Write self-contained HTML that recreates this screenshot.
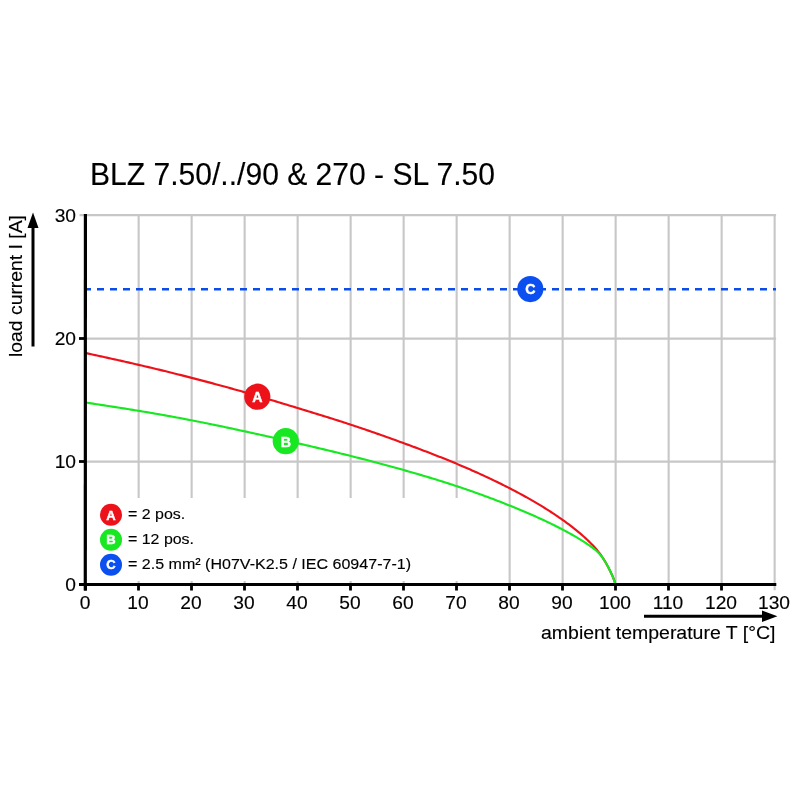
<!DOCTYPE html>
<html><head><meta charset="utf-8"><title>Derating curve</title>
<style>
html,body{margin:0;padding:0;background:#fff;}
body{width:800px;height:800px;overflow:hidden;font-family:"Liberation Sans", sans-serif;}
svg{display:block}
text{font-family:"Liberation Sans", sans-serif;fill:#000;stroke:#000;stroke-width:0.14px}
.w text{fill:#fff;stroke:#fff;stroke-width:0.45px}
</style></head><body>
<svg width="800" height="800" viewBox="0 0 800 800">
<rect width="800" height="800" fill="#fff"/>
<text x="90" y="185.2" font-size="31.2" textLength="405" lengthAdjust="spacingAndGlyphs">BLZ 7.50/../90 &amp; 270 - SL 7.50</text>
<g stroke="#c7c7c7" stroke-width="2.1" fill="none">
<line x1="138.65" y1="214" x2="138.65" y2="590.3"/>
<line x1="191.65" y1="214" x2="191.65" y2="590.3"/>
<line x1="244.65" y1="214" x2="244.65" y2="590.3"/>
<line x1="297.65" y1="214" x2="297.65" y2="590.3"/>
<line x1="350.65" y1="214" x2="350.65" y2="590.3"/>
<line x1="403.65" y1="214" x2="403.65" y2="590.3"/>
<line x1="456.65" y1="214" x2="456.65" y2="590.3"/>
<line x1="509.65" y1="214" x2="509.65" y2="590.3"/>
<line x1="562.65" y1="214" x2="562.65" y2="590.3"/>
<line x1="615.65" y1="214" x2="615.65" y2="590.3"/>
<line x1="668.65" y1="214" x2="668.65" y2="590.3"/>
<line x1="721.65" y1="214" x2="721.65" y2="590.3"/>
<line x1="774.65" y1="214" x2="774.65" y2="590.3"/>
<line x1="85" y1="461.60" x2="776.1" y2="461.60"/>
<line x1="85" y1="338.60" x2="776.1" y2="338.60"/>
<line x1="79.5" y1="215.15" x2="776.1" y2="215.15"/>
</g>
<rect x="92" y="498" width="395" height="83" fill="#fff"/>
<line x1="84" y1="289.2" x2="776" y2="289.2" stroke="#0c4ceb" stroke-width="2.45" stroke-dasharray="7 6"/>
<path d="M85.50,353.00 L87.44,353.42 L89.38,353.85 L91.31,354.27 L93.25,354.69 L95.19,355.11 L97.13,355.54 L99.06,355.96 L101.00,356.39 L102.94,356.81 L104.88,357.24 L106.81,357.66 L108.75,358.09 L110.69,358.52 L112.62,358.95 L114.56,359.38 L116.49,359.81 L118.43,360.24 L120.37,360.67 L122.30,361.11 L124.24,361.54 L126.17,361.98 L128.10,362.42 L130.04,362.86 L131.97,363.30 L133.91,363.74 L135.84,364.18 L137.77,364.63 L139.70,365.08 L141.63,365.53 L143.57,365.98 L145.50,366.44 L147.43,366.89 L149.36,367.35 L151.29,367.81 L153.21,368.27 L155.14,368.73 L157.07,369.20 L159.00,369.66 L160.93,370.13 L162.85,370.60 L164.78,371.07 L166.71,371.55 L168.63,372.02 L170.56,372.50 L172.48,372.98 L174.41,373.46 L176.33,373.94 L178.25,374.42 L180.18,374.91 L182.10,375.39 L184.02,375.88 L185.94,376.37 L187.86,376.86 L189.78,377.36 L191.71,377.85 L193.63,378.35 L195.55,378.85 L197.46,379.35 L199.38,379.85 L201.30,380.35 L203.22,380.86 L205.14,381.36 L207.06,381.87 L208.97,382.38 L210.89,382.89 L212.80,383.41 L214.72,383.92 L216.63,384.44 L218.55,384.96 L220.46,385.48 L222.38,386.00 L224.29,386.53 L226.20,387.05 L228.11,387.58 L230.02,388.11 L231.93,388.65 L233.84,389.18 L235.75,389.72 L237.66,390.25 L239.57,390.79 L241.48,391.34 L243.38,391.88 L245.29,392.43 L247.20,392.98 L249.10,393.53 L251.01,394.08 L252.91,394.63 L254.82,395.19 L256.72,395.75 L258.62,396.30 L260.52,396.87 L262.43,397.43 L264.33,397.99 L266.23,398.56 L268.13,399.12 L270.03,399.69 L271.93,400.26 L273.83,400.83 L275.73,401.40 L277.63,401.97 L279.53,402.54 L281.42,403.12 L283.32,403.69 L285.22,404.27 L287.12,404.84 L289.02,405.42 L290.91,406.00 L292.81,406.57 L294.71,407.15 L296.61,407.73 L298.50,408.31 L300.40,408.88 L302.30,409.46 L304.20,410.04 L306.09,410.62 L307.99,411.20 L309.89,411.78 L311.78,412.36 L313.68,412.95 L315.57,413.53 L317.47,414.12 L319.36,414.70 L321.26,415.29 L323.15,415.88 L325.05,416.47 L326.94,417.06 L328.83,417.65 L330.72,418.25 L332.62,418.84 L334.51,419.44 L336.40,420.04 L338.29,420.64 L340.17,421.25 L342.06,421.85 L343.95,422.46 L345.84,423.08 L347.72,423.69 L349.61,424.31 L351.49,424.93 L353.37,425.55 L355.26,426.17 L357.14,426.80 L359.02,427.43 L360.90,428.06 L362.78,428.70 L364.65,429.34 L366.53,429.98 L368.41,430.62 L370.28,431.27 L372.16,431.91 L374.03,432.56 L375.90,433.22 L377.78,433.87 L379.65,434.53 L381.52,435.19 L383.39,435.85 L385.26,436.51 L387.13,437.18 L388.99,437.84 L390.86,438.51 L392.73,439.18 L394.59,439.86 L396.46,440.53 L398.32,441.21 L400.19,441.89 L402.05,442.57 L403.91,443.25 L405.77,443.94 L407.64,444.62 L409.50,445.31 L411.36,446.00 L413.22,446.69 L415.07,447.38 L416.93,448.08 L418.79,448.78 L420.64,449.48 L422.50,450.18 L424.35,450.89 L426.21,451.60 L428.06,452.31 L429.91,453.02 L431.76,453.74 L433.60,454.46 L435.45,455.18 L437.30,455.91 L439.14,456.64 L440.99,457.37 L442.83,458.11 L444.67,458.84 L446.51,459.59 L448.34,460.33 L450.18,461.08 L452.01,461.84 L453.85,462.60 L455.68,463.36 L457.51,464.12 L459.34,464.89 L461.16,465.67 L462.99,466.44 L464.81,467.23 L466.63,468.01 L468.45,468.80 L470.27,469.60 L472.08,470.40 L473.89,471.20 L475.70,472.01 L477.51,472.82 L479.32,473.64 L481.13,474.46 L482.93,475.29 L484.73,476.12 L486.53,476.96 L488.32,477.80 L490.12,478.65 L491.91,479.50 L493.70,480.36 L495.49,481.22 L497.27,482.08 L499.05,482.96 L500.83,483.83 L502.61,484.72 L504.39,485.60 L506.16,486.50 L507.93,487.40 L509.70,488.30 L511.46,489.21 L513.22,490.13 L514.98,491.05 L516.74,491.97 L518.49,492.91 L520.24,493.85 L521.98,494.79 L523.73,495.75 L525.46,496.70 L527.20,497.67 L528.93,498.64 L530.66,499.62 L532.38,500.61 L534.10,501.61 L535.81,502.61 L537.52,503.62 L539.22,504.64 L540.92,505.66 L542.61,506.70 L544.30,507.74 L545.99,508.79 L547.66,509.85 L549.34,510.92 L551.00,512.00 L552.66,513.08 L554.32,514.18 L555.97,515.28 L557.61,516.40 L559.24,517.52 L560.87,518.65 L562.50,519.80 L564.11,520.95 L565.72,522.12 L567.32,523.29 L568.91,524.48 L570.50,525.67 L572.07,526.88 L573.64,528.11 L575.19,529.34 L576.73,530.59 L578.26,531.86 L579.78,533.13 L581.29,534.43 L582.78,535.73 L584.26,537.06 L585.73,538.40 L587.18,539.75 L588.61,541.12 L590.03,542.51 L591.43,543.92 L592.81,545.35 L594.17,546.80 L595.50,548.28 L596.79,549.78 L598.05,551.31 L599.28,552.87 L600.46,554.47 L601.60,556.09 L602.71,557.74 L603.77,559.41 L604.81,561.10 L605.81,562.82 L606.78,564.55 L607.72,566.29 L608.64,568.05 L609.53,569.82 L610.41,571.60 L611.27,573.39 L612.11,575.19 L612.90,577.01 L613.64,578.85 L614.30,580.72 L614.91,582.60 L615.50,584.50" fill="none" stroke="#ed121a" stroke-width="2.15" stroke-linejoin="round"/>
<path d="M85.50,402.50 L87.40,402.79 L89.30,403.08 L91.20,403.37 L93.10,403.66 L95.00,403.95 L96.90,404.24 L98.80,404.53 L100.69,404.82 L102.59,405.11 L104.49,405.40 L106.39,405.70 L108.29,405.99 L110.19,406.28 L112.09,406.58 L113.99,406.87 L115.88,407.17 L117.78,407.47 L119.68,407.77 L121.58,408.07 L123.48,408.37 L125.37,408.67 L127.27,408.97 L129.17,409.28 L131.06,409.58 L132.96,409.89 L134.86,410.20 L136.75,410.51 L138.65,410.82 L140.54,411.14 L142.44,411.45 L144.33,411.77 L146.23,412.09 L148.12,412.41 L150.02,412.74 L151.91,413.06 L153.80,413.39 L155.70,413.72 L157.59,414.05 L159.48,414.38 L161.37,414.71 L163.27,415.05 L165.16,415.39 L167.05,415.72 L168.94,416.07 L170.83,416.41 L172.72,416.76 L174.61,417.10 L176.50,417.45 L178.39,417.80 L180.28,418.16 L182.16,418.51 L184.05,418.87 L185.94,419.23 L187.83,419.59 L189.71,419.95 L191.60,420.32 L193.48,420.69 L195.37,421.06 L197.26,421.43 L199.14,421.80 L201.02,422.18 L202.91,422.56 L204.79,422.93 L206.67,423.32 L208.56,423.70 L210.44,424.08 L212.32,424.47 L214.20,424.86 L216.08,425.25 L217.97,425.64 L219.85,426.03 L221.73,426.42 L223.61,426.82 L225.49,427.22 L227.37,427.61 L229.25,428.01 L231.13,428.41 L233.00,428.82 L234.88,429.22 L236.76,429.62 L238.64,430.03 L240.52,430.43 L242.40,430.84 L244.27,431.25 L246.15,431.66 L248.03,432.07 L249.90,432.48 L251.78,432.89 L253.66,433.31 L255.53,433.72 L257.41,434.13 L259.28,434.55 L261.16,434.96 L263.04,435.38 L264.91,435.80 L266.79,436.22 L268.66,436.64 L270.54,437.06 L272.41,437.48 L274.28,437.90 L276.16,438.32 L278.03,438.75 L279.91,439.17 L281.78,439.60 L283.65,440.02 L285.53,440.45 L287.40,440.88 L289.27,441.31 L291.15,441.74 L293.02,442.17 L294.89,442.60 L296.76,443.03 L298.63,443.46 L300.51,443.90 L302.38,444.33 L304.25,444.76 L306.12,445.20 L307.99,445.64 L309.86,446.07 L311.73,446.51 L313.60,446.95 L315.47,447.39 L317.34,447.83 L319.21,448.28 L321.08,448.72 L322.95,449.17 L324.82,449.61 L326.69,450.06 L328.56,450.51 L330.43,450.96 L332.29,451.41 L334.16,451.86 L336.03,452.32 L337.89,452.78 L339.76,453.23 L341.62,453.69 L343.49,454.15 L345.35,454.62 L347.22,455.08 L349.08,455.54 L350.95,456.01 L352.81,456.48 L354.67,456.95 L356.53,457.42 L358.40,457.90 L360.26,458.38 L362.12,458.85 L363.98,459.33 L365.84,459.82 L367.70,460.30 L369.56,460.78 L371.42,461.27 L373.27,461.76 L375.13,462.25 L376.99,462.74 L378.84,463.24 L380.70,463.73 L382.56,464.23 L384.41,464.73 L386.27,465.24 L388.12,465.74 L389.97,466.25 L391.83,466.75 L393.68,467.26 L395.53,467.77 L397.38,468.29 L399.23,468.80 L401.08,469.32 L402.93,469.84 L404.78,470.36 L406.63,470.89 L408.48,471.41 L410.33,471.94 L412.18,472.47 L414.02,473.00 L415.87,473.54 L417.71,474.07 L419.56,474.61 L421.40,475.15 L423.24,475.70 L425.09,476.25 L426.93,476.80 L428.77,477.35 L430.61,477.90 L432.45,478.46 L434.28,479.02 L436.12,479.59 L437.96,480.16 L439.79,480.73 L441.62,481.30 L443.46,481.88 L445.29,482.46 L447.12,483.04 L448.95,483.63 L450.78,484.22 L452.60,484.82 L454.43,485.42 L456.25,486.02 L458.07,486.62 L459.90,487.23 L461.72,487.85 L463.54,488.46 L465.35,489.09 L467.17,489.71 L468.98,490.34 L470.80,490.97 L472.61,491.61 L474.42,492.25 L476.23,492.89 L478.04,493.54 L479.85,494.19 L481.65,494.85 L483.46,495.51 L485.26,496.17 L487.06,496.84 L488.86,497.51 L490.66,498.18 L492.46,498.86 L494.26,499.54 L496.05,500.23 L497.85,500.92 L499.64,501.61 L501.43,502.31 L503.22,503.01 L505.01,503.71 L506.80,504.42 L508.59,505.13 L510.37,505.85 L512.15,506.57 L513.94,507.29 L515.72,508.02 L517.50,508.75 L519.27,509.49 L521.05,510.23 L522.82,510.97 L524.59,511.72 L526.36,512.48 L528.13,513.24 L529.89,514.00 L531.66,514.77 L533.42,515.55 L535.17,516.33 L536.93,517.12 L538.68,517.91 L540.43,518.71 L542.17,519.51 L543.92,520.32 L545.65,521.14 L547.39,521.96 L549.12,522.79 L550.85,523.63 L552.58,524.47 L554.30,525.32 L556.02,526.18 L557.73,527.04 L559.44,527.92 L561.15,528.80 L562.85,529.68 L564.55,530.58 L566.24,531.48 L567.93,532.39 L569.61,533.32 L571.29,534.25 L572.96,535.19 L574.62,536.15 L576.28,537.12 L577.93,538.10 L579.58,539.09 L581.22,540.10 L582.84,541.13 L584.47,542.17 L586.08,543.23 L587.68,544.30 L589.28,545.39 L590.86,546.50 L592.42,547.64 L593.95,548.81 L595.45,550.03 L596.89,551.29 L598.28,552.62 L599.60,554.00 L600.85,555.46 L602.03,556.98 L603.15,558.55 L604.21,560.16 L605.22,561.80 L606.19,563.46 L607.12,565.14 L608.03,566.83 L608.90,568.54 L609.76,570.26 L610.60,571.99 L611.43,573.73 L612.23,575.47 L613.00,577.24 L613.70,579.02 L614.34,580.83 L614.93,582.66 L615.50,584.50" fill="none" stroke="#18e822" stroke-width="2.15" stroke-linejoin="round"/>
<g stroke="#000" stroke-width="3.2" fill="none">
<line x1="85.4" y1="214" x2="85.3" y2="590.5"/>
<line x1="79" y1="584.5" x2="776.3" y2="584.5"/>
</g>
<g stroke="#000" stroke-width="2.8" fill="none">
<line x1="85.5" y1="584" x2="85.5" y2="590.5"/>
<line x1="138.5" y1="584" x2="138.5" y2="590.5"/>
<line x1="191.5" y1="584" x2="191.5" y2="590.5"/>
<line x1="244.5" y1="584" x2="244.5" y2="590.5"/>
<line x1="297.5" y1="584" x2="297.5" y2="590.5"/>
<line x1="350.5" y1="584" x2="350.5" y2="590.5"/>
<line x1="403.5" y1="584" x2="403.5" y2="590.5"/>
<line x1="456.5" y1="584" x2="456.5" y2="590.5"/>
<line x1="509.5" y1="584" x2="509.5" y2="590.5"/>
<line x1="562.5" y1="584" x2="562.5" y2="590.5"/>
<line x1="615.5" y1="584" x2="615.5" y2="590.5"/>
<line x1="668.5" y1="584" x2="668.5" y2="590.5"/>
<line x1="721.5" y1="584" x2="721.5" y2="590.5"/>
<line x1="79" y1="584.5" x2="86" y2="584.5"/>
<line x1="79" y1="461.5" x2="86" y2="461.5"/>
<line x1="79" y1="338.5" x2="86" y2="338.5"/>
</g>
<g font-size="19.2" text-anchor="middle">
<text x="85.0" y="608.7">0</text>
<text x="138.0" y="608.7">10</text>
<text x="191.0" y="608.7">20</text>
<text x="244.0" y="608.7">30</text>
<text x="297.0" y="608.7">40</text>
<text x="350.0" y="608.7">50</text>
<text x="403.0" y="608.7">60</text>
<text x="456.0" y="608.7">70</text>
<text x="509.0" y="608.7">80</text>
<text x="562.0" y="608.7">90</text>
<text x="615.0" y="608.7">100</text>
<text x="668.0" y="608.7">110</text>
<text x="721.0" y="608.7">120</text>
<text x="774.0" y="608.7">130</text>
</g>
<g font-size="19.2" text-anchor="end">
<text x="76" y="591.1">0</text>
<text x="76" y="468.1">10</text>
<text x="76" y="345.1">20</text>
<text x="76" y="222.1">30</text>
</g>
<!-- arrows -->
<line x1="33" y1="346.5" x2="33" y2="226" stroke="#000" stroke-width="3"/>
<polygon points="27.5,228 38.5,228 33,212.5" fill="#000"/>
<line x1="644" y1="616.2" x2="764" y2="616.2" stroke="#000" stroke-width="3"/>
<polygon points="762,610.5 762,621.9 777.4,616.2" fill="#000"/>
<text x="541" y="639.3" font-size="18.7" textLength="234.5" lengthAdjust="spacingAndGlyphs">ambient temperature T [°C]</text>
<text transform="translate(21.7,357) rotate(-90)" font-size="19.2" textLength="142" lengthAdjust="spacingAndGlyphs">load current I [A]</text>
<!-- markers -->
<g class="w" font-weight="bold" font-size="14.2" text-anchor="middle">
<circle cx="257.3" cy="396.7" r="13.1" fill="#ed121a"/><text x="257.3" y="402">A</text>
<circle cx="285.8" cy="441.2" r="13.1" fill="#18e822"/><text x="285.8" y="446.5">B</text>
<circle cx="530.3" cy="289.1" r="13.1" fill="#0b4ff0"/><text x="530.3" y="294.4">C</text>
</g>
<!-- legend -->
<g class="w" font-weight="bold" font-size="13" text-anchor="middle">
<circle cx="111" cy="514.8" r="11" fill="#ed121a"/><text x="111" y="519.5">A</text>
<circle cx="111" cy="539.7" r="11" fill="#18e822"/><text x="111" y="544.4">B</text>
<circle cx="111" cy="564.7" r="11" fill="#0b4ff0"/><text x="111" y="569.4">C</text>
</g>
<g font-size="15.5">
<text x="128" y="518.8" textLength="57.2" lengthAdjust="spacingAndGlyphs">= 2 pos.</text>
<text x="128" y="543.8" textLength="66" lengthAdjust="spacingAndGlyphs">= 12 pos.</text>
<text x="128" y="568.7" textLength="283" lengthAdjust="spacingAndGlyphs">= 2.5 mm² (H07V-K2.5 / IEC 60947-7-1)</text>
</g>
</svg>
</body></html>
